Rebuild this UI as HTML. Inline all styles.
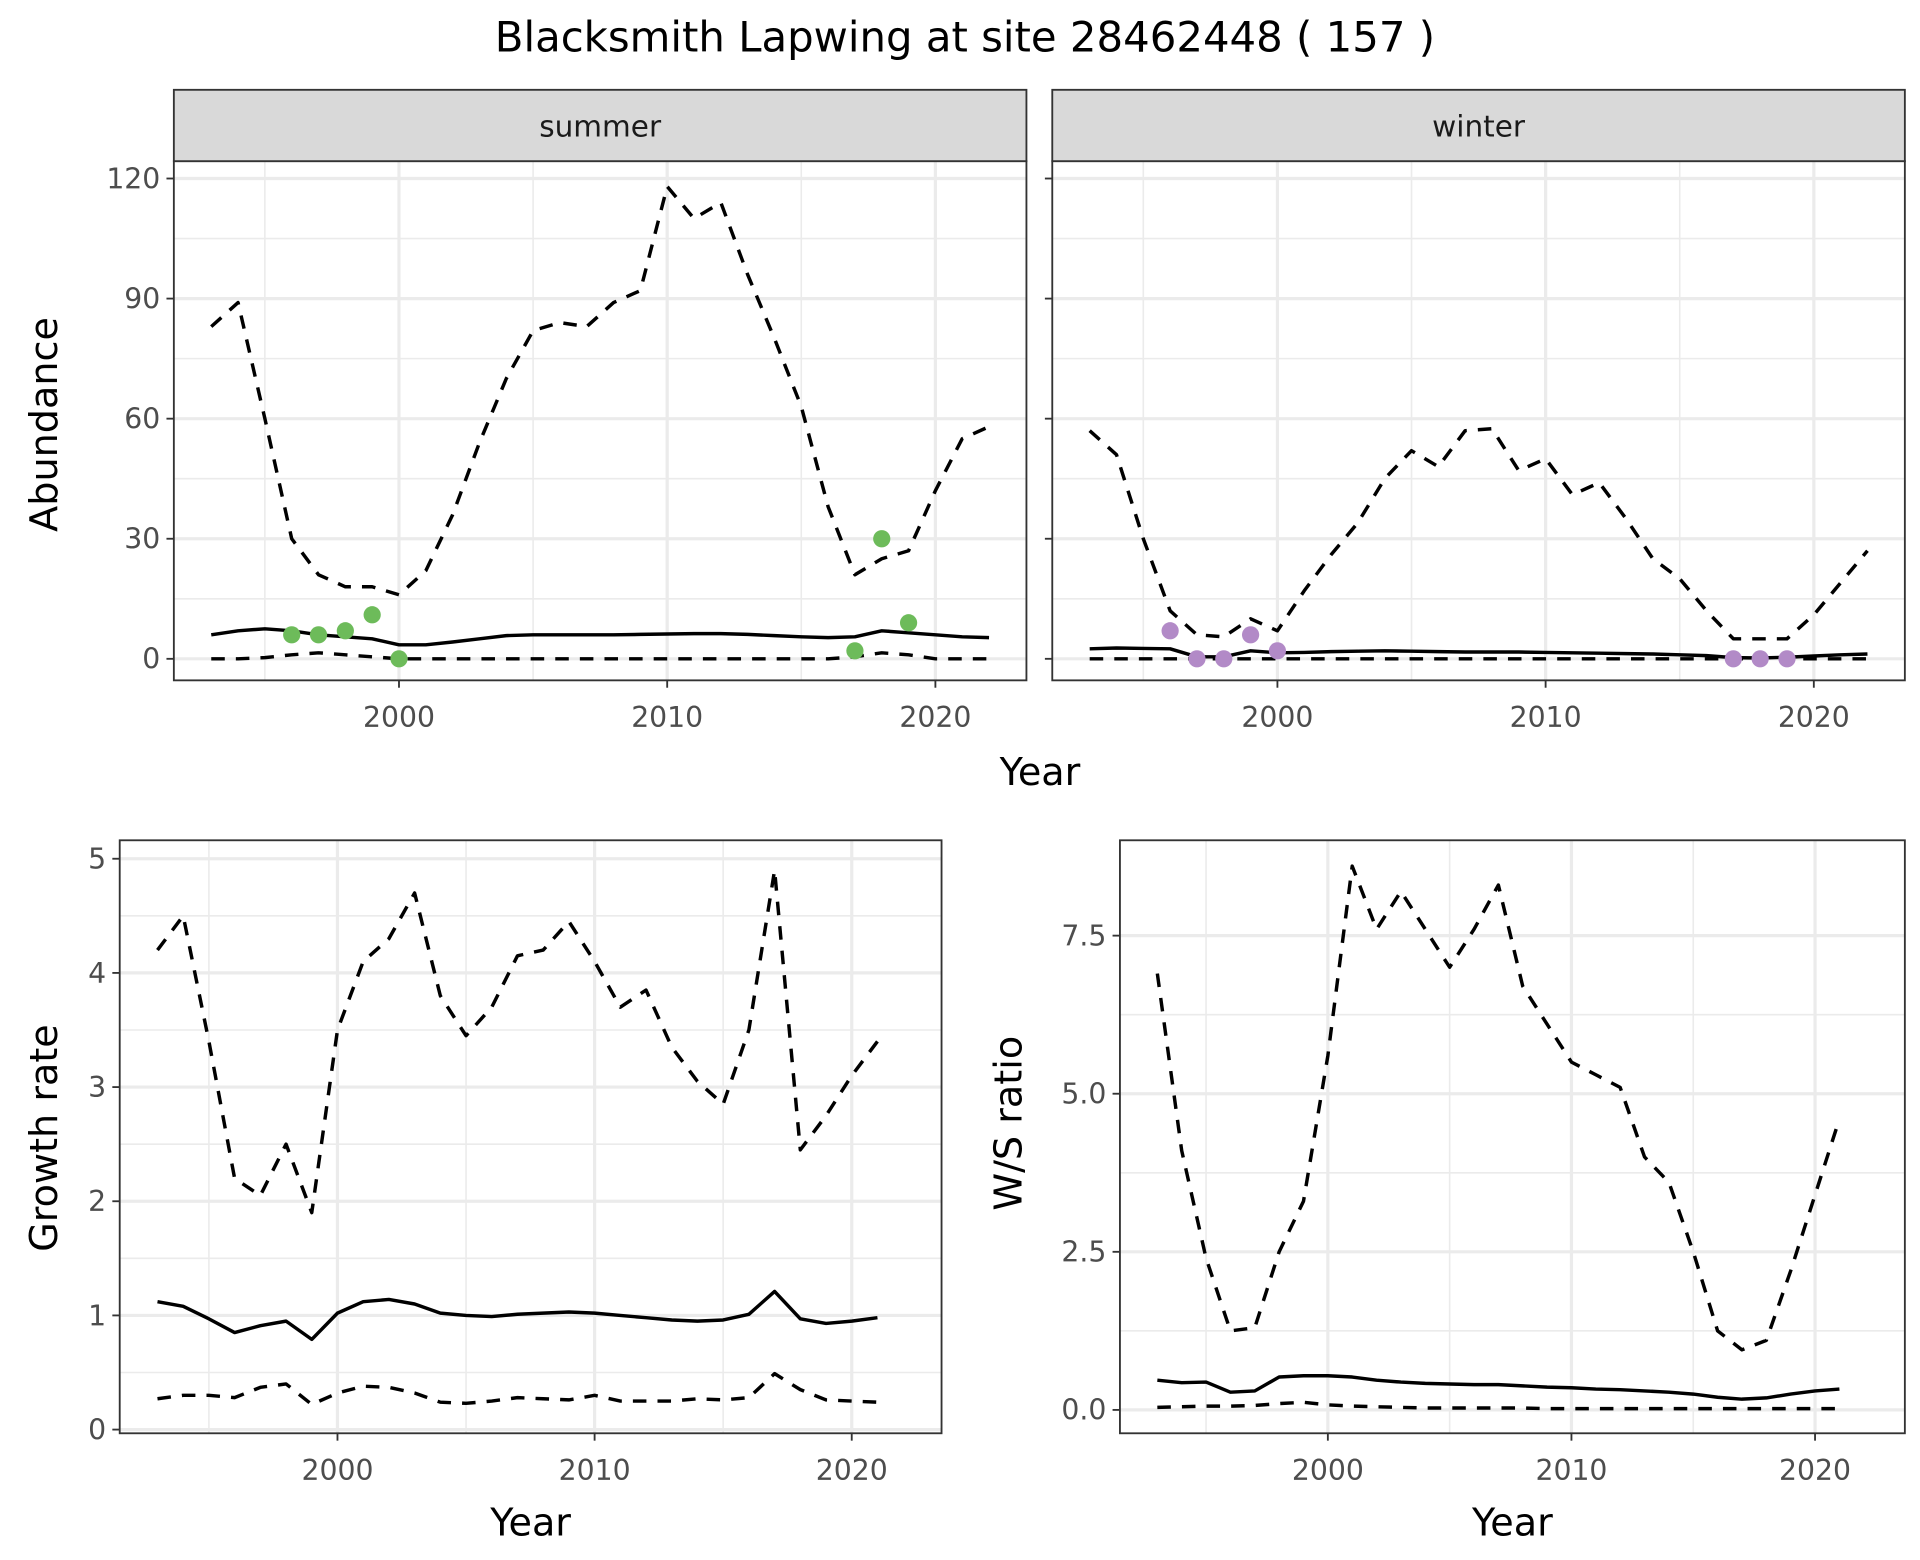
<!DOCTYPE html>
<html><head><meta charset="utf-8"><style>
html,body{margin:0;padding:0;background:#fff;}
svg{display:block;}
text{font-family:"DejaVu Sans","Liberation Sans",sans-serif;}
</style></head><body>
<svg id="chart" width="1920" height="1560" viewBox="0 0 1560 1268" xmlns="http://www.w3.org/2000/svg">
<rect width="1560" height="1268" fill="#fff"/>
<text x="784" y="42" font-size="34" text-anchor="middle" fill="#000">Blacksmith Lapwing at site 28462448 ( 157 )</text>
</svg>
<script>
const svgNS="http://www.w3.org/2000/svg";
const root=document.getElementById('chart');
const years=[1993,1994,1995,1996,1997,1998,1999,2000,2001,2002,2003,2004,2005,2006,2007,2008,2009,2010,2011,2012,2013,2014,2015,2016,2017,2018,2019,2020,2021,2022];
const summerUpper=[83,89,60,30,21,18,18,16,22,36,54,70,82,84,83,89,92,118,110,114,96,80,63,38,21,25,27,42,55,58];
const summerMean=[6,7,7.5,7,6,5.5,5,3.5,3.5,4.2,5,5.8,6,6,6,6,6.1,6.2,6.3,6.3,6.1,5.8,5.5,5.3,5.5,7,6.5,6,5.5,5.3];
const summerLower=[0,0,0.3,1,1.5,1,0.5,0,0,0,0,0,0,0,0,0,0,0,0,0,0,0,0,0,0.5,1.5,1,0,0,0];
const summerPtYears=[1996,1997,1998,1999,2000,2017,2018,2019];
const summerPts=[6,6,7,11,0,2,30,9];
const winterUpper=[57,51,30,12,6,5.5,10,7,17,26,34,45,52,48,57,57.5,47,50,41,44,35,25,20,12,5,5,5,11,19,27];
const winterMean=[2.5,2.7,2.6,2.5,0.5,0.5,2,1.5,1.6,1.8,1.9,2,1.9,1.8,1.7,1.7,1.7,1.6,1.5,1.4,1.3,1.2,1,0.8,0.3,0.2,0.4,0.7,1,1.2];
const winterLower=years.map(()=>0);
const winterPtYears=[1996,1997,1998,1999,2000,2017,2018,2019];
const winterPts=[7,0,0,6,2,0,0,0];
const gYears=years.slice(0,29);
const growthUpper=[4.2,4.5,3.4,2.2,2.05,2.5,1.9,3.5,4.1,4.3,4.7,3.8,3.45,3.7,4.15,4.2,4.45,4.1,3.7,3.85,3.35,3.05,2.85,3.5,4.9,2.45,2.75,3.1,3.4];
const growthMean=[1.12,1.08,0.97,0.85,0.91,0.95,0.79,1.02,1.12,1.14,1.1,1.02,1.0,0.99,1.01,1.02,1.03,1.02,1.0,0.98,0.96,0.95,0.96,1.01,1.21,0.97,0.93,0.95,0.98];
const growthLower=[0.27,0.3,0.3,0.28,0.37,0.4,0.22,0.32,0.38,0.37,0.32,0.24,0.23,0.25,0.28,0.27,0.26,0.3,0.25,0.25,0.25,0.27,0.26,0.28,0.49,0.35,0.26,0.25,0.24];
const ratioUpper=[6.9,4.1,2.4,1.25,1.3,2.5,3.3,5.6,8.6,7.6,8.2,7.6,7.0,7.6,8.3,6.7,6.1,5.5,5.3,5.1,4.0,3.6,2.5,1.25,0.95,1.1,2.2,3.4,4.6];
const ratioMean=[0.47,0.43,0.44,0.28,0.3,0.52,0.54,0.54,0.52,0.47,0.44,0.42,0.41,0.4,0.4,0.38,0.36,0.35,0.33,0.32,0.3,0.28,0.25,0.2,0.17,0.19,0.25,0.3,0.33];
const ratioLower=[0.04,0.05,0.06,0.06,0.07,0.1,0.12,0.08,0.06,0.05,0.04,0.03,0.03,0.03,0.03,0.03,0.02,0.02,0.02,0.02,0.02,0.02,0.02,0.02,0.02,0.02,0.02,0.02,0.02];
const xTicks=[2000,2010,2020];
const xMinor=[1995,2005,2015];
const abTicks=[0,30,60,90,120];
const abMinor=[15,45,75,105];
const grTicks=[0,1,2,3,4,5];
const grMinor=[0.5,1.5,2.5,3.5,4.5];
const raTicks=[0,2.5,5,7.5];
const raMinor=[1.25,3.75,6.25];

function el(tag,attrs,parent){const e=document.createElementNS(svgNS,tag);for(const k in attrs)e.setAttribute(k,attrs[k]);(parent||root).appendChild(e);return e;}

function panel(name,cfg){
  const g=el('g',{});
  
  
  const sx=v=>cfg.x0+(v-2000)*cfg.px;
  const sy=v=>cfg.y0-v*cfg.py;
  el('rect',{x:cfg.l,y:cfg.t,width:cfg.r-cfg.l,height:cfg.b-cfg.t,fill:'#fff'},g);
  cfg.yMinor.forEach(v=>el('line',{x1:cfg.l,x2:cfg.r,y1:sy(v),y2:sy(v),stroke:'#ebebeb','stroke-width':1.3},g));
  xMinor.forEach(v=>el('line',{x1:sx(v),x2:sx(v),y1:cfg.t,y2:cfg.b,stroke:'#ebebeb','stroke-width':1.3},g));
  cfg.yTicks.forEach(v=>el('line',{x1:cfg.l,x2:cfg.r,y1:sy(v),y2:sy(v),stroke:'#ebebeb','stroke-width':2.6},g));
  xTicks.forEach(v=>el('line',{x1:sx(v),x2:sx(v),y1:cfg.t,y2:cfg.b,stroke:'#ebebeb','stroke-width':2.6},g));
  const line=(xs,ys,dash,nm)=>{
    const p=el('polyline',{points:xs.map((x,i)=>sx(x)+','+sy(ys[i])).join(' '),fill:'none',stroke:'#000','stroke-width':2.8,'stroke-dasharray':dash?'11,9':'none','stroke-linejoin':'round'},g);
    
    
  };
  line(cfg.xs,cfg.upper,true,'upper-bound-line');
  line(cfg.xs,cfg.mean,false,'mean-line');
  line(cfg.xs,cfg.lower,true,'lower-bound-line');
  if(cfg.ptX){cfg.ptX.forEach((x,i)=>{const c=el('circle',{cx:sx(x),cy:sy(cfg.ptY[i]),r:7,fill:cfg.ptColor},g);
    
    });}
  el('rect',{x:cfg.l,y:cfg.t,width:cfg.r-cfg.l,height:cfg.b-cfg.t,fill:'none',stroke:'#333','stroke-width':1.5},g);
  if(cfg.strip){
    const s=el('rect',{x:cfg.l,y:cfg.t-58,width:cfg.r-cfg.l,height:58,fill:'#d9d9d9',stroke:'#333','stroke-width':1.5},g);
    
    
    const st=el('text',{x:(cfg.l+cfg.r)/2,y:cfg.t-20,'font-size':24,'text-anchor':'middle',fill:'#1a1a1a'},g);
    st.textContent=cfg.strip;
    
    
  }
  xTicks.forEach(v=>{el('line',{x1:sx(v),x2:sx(v),y1:cfg.b,y2:cfg.b+6,stroke:'#333','stroke-width':1.5},g);
    const t=el('text',{x:sx(v),y:cfg.b+38,'font-size':23,'text-anchor':'middle',fill:'#4d4d4d'},g);t.textContent=v;
    
    });
  cfg.yTicks.forEach((v,i)=>{el('line',{x1:cfg.l-6,x2:cfg.l,y1:sy(v),y2:sy(v),stroke:'#333','stroke-width':1.5},g);
    if(cfg.yLabels){const t=el('text',{x:cfg.l-11,y:sy(v)+8,'font-size':23,'text-anchor':'end',fill:'#4d4d4d'},g);t.textContent=cfg.yLabels[i];
    
    }});
  if(cfg.xTitle){const t=el('text',{x:cfg.xTitle[0],y:cfg.xTitle[1],'font-size':31,'text-anchor':'middle',fill:'#000'},g);t.textContent='Year';
    
    }
  if(cfg.yTitle){const t=el('text',{x:0,y:0,'font-size':31,'text-anchor':'middle',fill:'#000',transform:`translate(${cfg.yTitle[1]},${cfg.yTitle[2]}) rotate(-90)`},g);t.textContent=cfg.yTitle[0];
    
    }
}
panel('summer-panel',{l:141,r:834,t:131,b:553,x0:324,px:21.8,y0:535.5,py:97.6/30,xs:years,upper:summerUpper,mean:summerMean,lower:summerLower,ptX:summerPtYears,ptY:summerPts,ptColor:'#6dbb5a',yTicks:abTicks,yMinor:abMinor,yLabels:abTicks.map(String),strip:'summer',yTitle:['Abundance',46,345]});
panel('winter-panel',{l:855,r:1548,t:131,b:553,x0:1038,px:21.8,y0:535.5,py:97.6/30,xs:years,upper:winterUpper,mean:winterMean,lower:winterLower,ptX:winterPtYears,ptY:winterPts,ptColor:'#b28ac7',yTicks:abTicks,yMinor:abMinor,strip:'winter'});
const yt=el('text',{x:845,y:638,'font-size':31,'text-anchor':'middle',fill:'#000'});yt.textContent='Year';


panel('growth-panel',{l:97,r:765,t:683,b:1165,x0:274,px:20.9,y0:1162,py:92.8,xs:gYears,upper:growthUpper,mean:growthMean,lower:growthLower,yTicks:grTicks,yMinor:grMinor,yLabels:grTicks.map(String),xTitle:[431,1248],yTitle:['Growth rate',46,925]});
panel('ratio-panel',{l:910,r:1548,t:683,b:1165,x0:1079,px:19.8,y0:1146,py:128.5/2.5,xs:gYears,upper:ratioUpper,mean:ratioMean,lower:ratioLower,yTicks:raTicks,yMinor:raMinor,yLabels:raTicks.map(v=>v.toFixed(1)),xTitle:[1229,1248],yTitle:['W/S ratio',830,913]});
</script>
</body></html>
